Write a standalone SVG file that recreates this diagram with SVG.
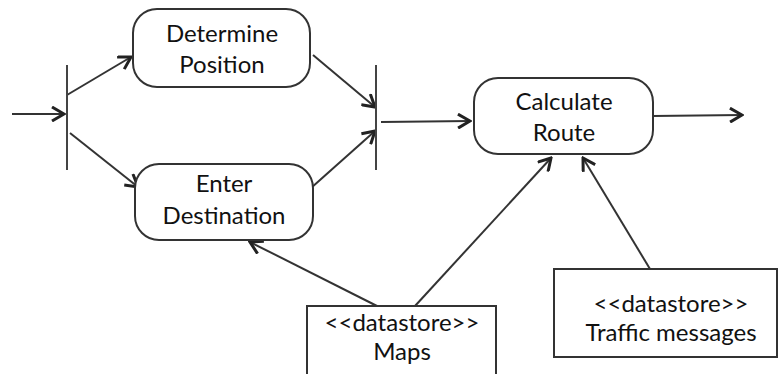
<svg xmlns="http://www.w3.org/2000/svg" width="779" height="374" viewBox="0 0 779 374">
<style>
.box{fill:#fff;stroke:#333;stroke-width:2}
.bar{stroke:#444;stroke-width:2}
.edge{fill:none;stroke:#333;stroke-width:2;marker-end:url(#arr)}
text{font-family:Lato,"Open Sans","Liberation Sans",sans-serif;font-size:24px;fill:#111;text-anchor:middle}
</style>
<defs>
<marker id="arr" markerUnits="userSpaceOnUse" markerWidth="16" markerHeight="16" viewBox="0 0 16 16" refX="14" refY="8" orient="auto">
<path d="M2,1 L14,8 L2,15" fill="none" stroke="#222" stroke-width="3" stroke-linejoin="miter"/>
</marker>
</defs>
<rect width="779" height="374" fill="#fff"/>
<g id="connectors">
<line class="edge" x1="12" y1="114" x2="64" y2="114"/>
<line class="edge" x1="67" y1="95" x2="131" y2="57"/>
<line class="edge" x1="70" y1="133" x2="138" y2="187"/>
<line class="edge" x1="313" y1="55" x2="375" y2="107"/>
<line class="edge" x1="311" y1="188" x2="375" y2="131"/>
<line class="edge" x1="381" y1="122" x2="470" y2="121"/>
<line class="edge" x1="653" y1="116" x2="742" y2="115"/>
<line class="edge" x1="377" y1="306" x2="250" y2="242"/>
<line class="edge" x1="415" y1="306" x2="551" y2="158"/>
<line class="edge" x1="650" y1="269" x2="583" y2="158"/>
</g>
<g id="fork"><line class="bar" x1="67" y1="65" x2="67" y2="170"/></g>
<g id="join"><line class="bar" x1="376" y1="65" x2="376" y2="170"/></g>
<g id="determine-position">
<rect class="box" x="133" y="9" width="177" height="78" rx="24"/>
<text x="222" y="42">Determine</text>
<text x="222" y="73">Position</text>
</g>
<g id="enter-destination">
<rect class="box" x="135" y="164" width="178" height="76" rx="24"/>
<text x="224" y="192">Enter</text>
<text x="224" y="224">Destination</text>
</g>
<g id="calculate-route">
<rect class="box" x="474" y="78" width="179" height="76" rx="24"/>
<text x="564" y="110">Calculate</text>
<text x="564" y="141">Route</text>
</g>
<g id="maps">
<rect class="box" x="307" y="306" width="189" height="80"/>
<text x="402" y="331">&lt;&lt;datastore&gt;&gt;</text>
<text x="402" y="360">Maps</text>
</g>
<g id="traffic-messages">
<rect class="box" x="554" y="269" width="223" height="88"/>
<text x="671" y="312">&lt;&lt;datastore&gt;&gt;</text>
<text x="671" y="341">Traffic messages</text>
</g>
</svg>
